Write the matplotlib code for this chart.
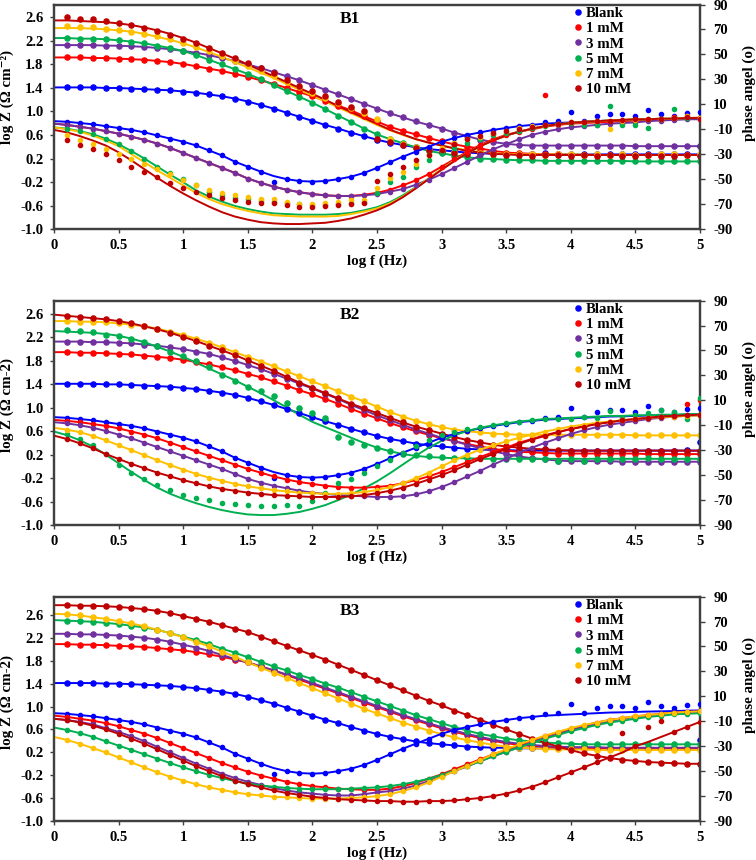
import matplotlib.pyplot as plt
from matplotlib.lines import Line2D

plt.rcParams['font.family'] = ['Liberation Serif', 'DejaVu Serif']
plt.rcParams['font.weight'] = 'bold'
plt.rcParams['axes.unicode_minus'] = False

# frequency grid (log f, Hz)
log_f = [0.0, 0.1, 0.2, 0.3, 0.4, 0.5, 0.6, 0.7, 0.8, 0.9,
         1.0, 1.1, 1.2, 1.3, 1.4, 1.5, 1.6, 1.7, 1.8, 1.9,
         2.0, 2.1, 2.2, 2.3, 2.4, 2.5, 2.6, 2.7, 2.8, 2.9,
         3.0, 3.1, 3.2, 3.3, 3.4, 3.5, 3.6, 3.7, 3.8, 3.9,
         4.0, 4.1, 4.2, 4.3, 4.4, 4.5, 4.6, 4.7, 4.8, 4.9, 5.0]

labels = ['Blank', '1 mM', '3 mM', '5 mM', '7 mM', '10 mM']
colors = ['#0000ff', '#ff0000', '#7030a0', '#00b050', '#ffc000', '#c00000']

x_ticks = [0, 0.5, 1, 1.5, 2, 2.5, 3, 3.5, 4, 4.5, 5]
x_ticklabels = ['0', '0.5', '1', '1.5', '2', '2.5', '3', '3.5', '4', '4.5', '5']
z_ticks = [-1.0, -0.6, -0.2, 0.2, 0.6, 1.0, 1.4, 1.8, 2.2, 2.6]
ph_ticks = [-90, -70, -50, -30, -10, 10, 30, 50, 70, 90]

# ---- blank (same in every panel) ----
blank_z = [1.41, 1.41, 1.41, 1.41, 1.40, 1.40, 1.39, 1.38, 1.37, 1.36,
           1.34, 1.32, 1.29, 1.26, 1.22, 1.17, 1.11, 1.05, 0.98, 0.91,
           0.84, 0.77, 0.71, 0.64, 0.58, 0.52, 0.47, 0.43, 0.39, 0.36,
           0.34, 0.32, 0.30, 0.29, 0.28, 0.28, 0.27, 0.27, 0.27, 0.27,
           0.27, 0.27, 0.27, 0.27, 0.27, 0.27, 0.27, 0.27, 0.27, 0.27, 0.27]
blank_z_pts = [1.41, 1.41, 1.41, 1.41, 1.40, 1.40, 1.39, 1.38, 1.37, 1.36,
               1.34, 1.32, 1.29, 1.26, 1.22, 1.17, 1.11, 1.05, 0.98, 0.91,
               0.84, 0.77, 0.71, 0.64, 0.58, 0.52, 0.47, 0.43, 0.39, 0.36,
               0.34, 0.32, 0.30, 0.29, 0.28, 0.28, 0.27, 0.27, 0.29, 0.27,
               0.27, 0.27, 0.27, 0.27, 0.27, 0.27, 0.27, 0.27, 0.27, 0.28, 0.42]
blank_ph = [-3.5, -4, -5, -6, -7.5, -9, -10.5, -12.5, -15, -17.5,
            -20, -23, -27, -31, -36, -40, -44, -47.5, -50, -51.5,
            -52, -51.5, -50, -48, -45, -41, -36.5, -32, -28, -24,
            -20, -17, -14.5, -12.5, -10.5, -9, -7.5, -6.5, -5.5, -5,
            -4.5, -4, -3.5, -3, -2.8, -2.5, -2.2, -2, -1.8, -1.5, -1.3]
blank_ph_pts = [-3.5, -4, -5, -6, -7.5, -9, -10.5, -12.5, -15, -17.5,
                -20, -23, -27, -31, -36, -40, -44, -52.5, -50, -51.5,
                -52, -51.5, -50, -48, -45, -41, -36.5, -32, -28, -24,
                -20, -17, -14.5, -12.5, -10.5, -9, -7.5, -6.5, -4.5, -3.5,
                4, -3, 1, 2.5, 2.5, 0.5, 5.5, 2.5, 1, 3, 4]

# ---- B1 ----
b1_z_1mM = [1.92, 1.92, 1.92, 1.91, 1.91, 1.90, 1.89, 1.88, 1.86, 1.84,
            1.81, 1.77, 1.73, 1.69, 1.64, 1.59, 1.53, 1.47, 1.40, 1.33,
            1.26, 1.18, 1.10, 1.02, 0.92, 0.83, 0.74, 0.67, 0.61, 0.55,
            0.49, 0.44, 0.40, 0.37, 0.33, 0.30, 0.29, 0.28, 0.27, 0.27,
            0.26, 0.26, 0.26, 0.26, 0.26, 0.26, 0.26, 0.26, 0.26, 0.26, 0.26]
b1_z_3mM = [2.13, 2.13, 2.13, 2.13, 2.12, 2.12, 2.11, 2.10, 2.08, 2.06,
            2.03, 2.00, 1.96, 1.91, 1.86, 1.80, 1.74, 1.67, 1.60, 1.53,
            1.45, 1.37, 1.29, 1.21, 1.13, 1.05, 0.97, 0.90, 0.83, 0.77,
            0.71, 0.64, 0.58, 0.52, 0.48, 0.45, 0.43, 0.42, 0.42, 0.42,
            0.42, 0.42, 0.42, 0.42, 0.42, 0.41, 0.41, 0.41, 0.41, 0.41, 0.41]
b1_z_5mM = [2.25, 2.25, 2.24, 2.24, 2.23, 2.21, 2.19, 2.16, 2.12, 2.08,
            2.03, 1.96, 1.88, 1.80, 1.72, 1.64, 1.55, 1.45, 1.35, 1.25,
            1.15, 1.04, 0.93, 0.82, 0.71, 0.61, 0.53, 0.46, 0.39, 0.33,
            0.29, 0.25, 0.22, 0.20, 0.19, 0.18, 0.17, 0.17, 0.16, 0.16,
            0.16, 0.16, 0.16, 0.16, 0.16, 0.15, 0.15, 0.15, 0.15, 0.15, 0.15]
b1_z_7mM = [2.42, 2.42, 2.42, 2.41, 2.40, 2.38, 2.36, 2.32, 2.27, 2.22,
            2.16, 2.09, 2.01, 1.93, 1.84, 1.75, 1.66, 1.57, 1.47, 1.37,
            1.27, 1.17, 1.07, 0.97, 0.87, 0.77, 0.68, 0.60, 0.53, 0.47,
            0.42, 0.38, 0.34, 0.31, 0.29, 0.28, 0.27, 0.27, 0.27, 0.27,
            0.27, 0.27, 0.26, 0.26, 0.26, 0.26, 0.26, 0.26, 0.26, 0.26, 0.26]
b1_z_7mM_pts = [2.43, 2.45, 2.44, 2.43, 2.41, 2.39, 2.36, 2.32, 2.28, 2.23,
                2.17, 2.10, 2.03, 1.95, 1.86, 1.78, 1.69, 1.61, 1.50, 1.41,
                1.32, 1.23, 1.14, 1.06, 0.97, 0.87, 0.53, 0.45, 0.40, 0.36,
                0.33, 0.31, 0.30, 0.29, 0.28, 0.28, 0.27, 0.27, 0.26, 0.27,
                0.28, 0.26, 0.27, 0.26, 0.27, 0.26, 0.26, 0.27, 0.27, 0.26, 0.27]
b1_z_10mM = [2.55, 2.55, 2.54, 2.53, 2.52, 2.50, 2.47, 2.43, 2.38, 2.32,
             2.25, 2.17, 2.08, 1.99, 1.90, 1.80, 1.70, 1.60, 1.50, 1.40,
             1.30, 1.20, 1.09, 0.99, 0.89, 0.79, 0.69, 0.61, 0.53, 0.47,
             0.42, 0.37, 0.33, 0.30, 0.28, 0.27, 0.26, 0.26, 0.26, 0.26,
             0.26, 0.26, 0.26, 0.26, 0.26, 0.26, 0.26, 0.26, 0.26, 0.26, 0.26]
b1_z_10mM_pts = [2.55, 2.60, 2.58, 2.57, 2.54, 2.50, 2.47, 2.42, 2.37, 2.31,
                 2.24, 2.16, 2.08, 2.00, 1.91, 1.83, 1.74, 1.66, 1.53, 1.44,
                 1.35, 1.26, 1.17, 1.08, 1.00, 0.53, 0.48, 0.43, 0.38, 0.34,
                 0.31, 0.29, 0.28, 0.27, 0.27, 0.26, 0.26, 0.25, 0.26, 0.26,
                 0.25, 0.26, 0.25, 0.26, 0.25, 0.25, 0.26, 0.25, 0.25, 0.26, 0.25]

b1_ph_1mM = [-5.5, -6.5, -8, -9.5, -11.5, -13.5, -16, -18.5, -21.5, -25,
             -29, -33, -37, -41, -45, -49.5, -53, -56, -58.5, -60.5,
             -62, -63, -63.5, -63.5, -62.5, -61, -58.5, -55, -51, -46,
             -40, -34, -28, -22.5, -18, -14.5, -12, -10, -8, -6.5,
             -5.5, -5, -4.5, -4, -3.5, -3, -2.5, -2, -1.5, -1, -0.7]
b1_ph_1mM_pts = [-5.5, -6.5, -8, -9.5, -11.5, -13.5, -16, -18.5, -21.5, -25,
                 -29, -33, -37, -41, -45, -49.5, -53, -56, -58.5, -60.5,
                 -62, -63, -63.5, -63.5, -62.5, -61, -58.5, -55, -51, -46,
                 -40, -34, -28, -22.5, -18, -14.5, -12, -10, 17.5, -6.5,
                 -5.5, -5, -4.5, -4, -3.5, -3, -2.5, -2, -0.5, 0.5, -0.7]
b1_ph_3mM = [-5.5, -6.5, -8, -9.5, -11.5, -13.5, -16, -18.5, -21.5, -25,
             -29, -33, -37, -41, -45, -49.5, -53, -56, -58.5, -60.5,
             -62, -63, -63.5, -63.5, -63, -62, -60, -58, -54.5, -50.5,
             -46, -41, -36, -31, -26, -22, -18, -14.5, -12, -10,
             -8.5, -7.5, -6.5, -5.5, -5, -4.5, -3.5, -3, -2.5, -2, -2]
b1_ph_5mM = [-8.5, -9.5, -11.5, -14, -17.5, -22, -27.5, -33.5, -40, -46.5,
             -52.5, -59, -64, -68, -71.5, -74, -76, -77.5, -78, -78.5,
             -78.5, -78.5, -78, -77, -75, -72.5, -68.5, -63, -56.5, -49.5,
             -42, -35, -29, -23.5, -19, -15, -12, -9.5, -7.5, -6,
             -5, -4, -3.5, -3, -2.5, -2, -2, -1.5, -1.5, -1, -1]
b1_ph_5mM_pts = [-8.5, -9.5, -11.5, -14, -17.5, -22, -27.5, -33.5, -40, -45,
                 -49.5, -55, -60, -63, -65, -66, -67.5, -68, -69.5, -70,
                 -71, -70.5, -70, -69, -68.5, -61, -52.5, -48.5, -40, -35,
                 -29, -25, -21, -18, -15, -13, -11, -9, -7, -6,
                 -5, -6.5, -6.5, 8.5, -6.5, -6.5, -9, -1.5, 6, -1, -1]
b1_ph_7mM = [-8.5, -10, -12, -15, -19, -23.5, -30, -36.5, -43, -49,
             -55, -61, -66, -70, -73, -75.5, -77.5, -79, -79.5, -80,
             -80, -80, -79.5, -78, -76, -73.5, -69.5, -64, -57, -49.5,
             -42, -35, -29, -23.5, -19, -15, -12, -9.5, -7.5, -6,
             -5, -4, -3.5, -3, -2.5, -2, -2, -1.5, -1.5, -1, -1]
b1_ph_7mM_pts = [-8.5, -15, -18.5, -22, -26, -30, -34, -38, -42, -46,
                 -50.5, -55, -58.5, -61.5, -62.5, -64, -66, -66, -68, -70,
                 -70, -69, -68, -67, -66.5, -57, -49, -44.5, -38, -31,
                 -25, -21, -18, -16, -13, -11, -9, -7.5, -6.5, -5.5,
                 -4.5, -4, -3, -10, -3.5, -2.5, -2, -1.5, -1, 0.5, -1]
b1_ph_10mM = [-10.5, -12.5, -15.5, -19, -23, -28.5, -35, -42, -49, -55.5,
              -61.5, -67, -72, -76.5, -80, -82.5, -84.5, -85.5, -86, -86,
              -85.5, -85, -83.5, -81.5, -78.5, -75, -70.5, -64.5, -57.5, -50,
              -42.5, -35.5, -29, -23.5, -19, -15, -12, -9.5, -7.5, -6,
              -5, -4, -3.5, -3, -2.5, -2, -2, -1.5, -1.5, -1, -1]
b1_ph_10mM_pts = [-10.5, -18.5, -22.5, -26, -30, -35, -40, -44.5, -48.5, -53,
                  -57, -60, -62.5, -65, -66.5, -68, -69, -69.5, -71, -72,
                  -72, -71.5, -71, -70, -69.5, -51.5, -45.5, -40.5, -35, -31,
                  -27, -22, -18, -15.5, -13, -11, -9.5, -8, -6.5, -5.5,
                  -4.5, -4, -3.5, -3, -2.5, -2, -2, -1.5, -1, 0, -1.5]

# ---- B2 ----
b2_z_1mM = [1.95, 1.95, 1.94, 1.94, 1.93, 1.92, 1.91, 1.89, 1.87, 1.85,
            1.82, 1.78, 1.74, 1.69, 1.64, 1.58, 1.52, 1.45, 1.38, 1.30,
            1.23, 1.15, 1.07, 0.98, 0.90, 0.82, 0.74, 0.67, 0.60, 0.54,
            0.48, 0.43, 0.38, 0.34, 0.30, 0.27, 0.25, 0.24, 0.23, 0.22,
            0.22, 0.22, 0.22, 0.22, 0.22, 0.22, 0.21, 0.21, 0.21, 0.21, 0.21]
b2_z_3mM = [2.13, 2.13, 2.13, 2.12, 2.12, 2.11, 2.10, 2.08, 2.06, 2.03,
            2.00, 1.96, 1.92, 1.86, 1.80, 1.73, 1.66, 1.58, 1.50, 1.41,
            1.33, 1.24, 1.15, 1.05, 0.96, 0.87, 0.79, 0.71, 0.63, 0.56,
            0.49, 0.43, 0.37, 0.31, 0.26, 0.21, 0.17, 0.14, 0.12, 0.10,
            0.09, 0.09, 0.09, 0.09, 0.08, 0.08, 0.08, 0.08, 0.08, 0.08, 0.08]
b2_z_5mM = [2.31, 2.30, 2.29, 2.28, 2.26, 2.23, 2.18, 2.12, 2.04, 1.96,
            1.87, 1.77, 1.67, 1.57, 1.47, 1.36, 1.25, 1.13, 1.01, 0.88,
            0.76, 0.67, 0.58, 0.49, 0.40, 0.32, 0.26, 0.21, 0.18, 0.16,
            0.15, 0.14, 0.14, 0.13, 0.13, 0.13, 0.13, 0.13, 0.13, 0.13,
            0.13, 0.13, 0.13, 0.13, 0.13, 0.13, 0.13, 0.13, 0.13, 0.13, 0.13]
b2_z_5mM_pts = [2.31, 2.33, 2.31, 2.29, 2.25, 2.23, 2.18, 2.12, 2.05, 1.96,
                1.89, 1.80, 1.70, 1.56, 1.46, 1.36, 1.28, 1.20, 1.08, 0.99,
                0.92, 0.82, 0.51, 0.42, 0.36, 0.32, 0.27, 0.22, 0.19, 0.17,
                0.16, 0.15, 0.14, 0.14, 0.13, 0.13, 0.12, 0.13, 0.12, 0.10,
                0.13, 0.09, 0.12, 0.13, 0.12, 0.13, 0.14, 0.13, 0.12, 0.13, 0.12]
b2_z_7mM = [2.48, 2.48, 2.47, 2.47, 2.46, 2.44, 2.42, 2.39, 2.35, 2.30,
            2.24, 2.18, 2.11, 2.03, 1.95, 1.87, 1.79, 1.71, 1.62, 1.54,
            1.45, 1.37, 1.28, 1.19, 1.11, 1.02, 0.93, 0.85, 0.78, 0.72,
            0.67, 0.63, 0.60, 0.58, 0.56, 0.55, 0.54, 0.54, 0.54, 0.54,
            0.54, 0.54, 0.54, 0.54, 0.54, 0.53, 0.53, 0.53, 0.53, 0.53, 0.53]
b2_z_10mM = [2.59, 2.57, 2.55, 2.53, 2.51, 2.48, 2.44, 2.39, 2.34, 2.28,
             2.21, 2.14, 2.06, 1.98, 1.90, 1.81, 1.72, 1.63, 1.53, 1.43,
             1.34, 1.25, 1.16, 1.07, 0.99, 0.91, 0.83, 0.75, 0.68, 0.62,
             0.56, 0.50, 0.45, 0.41, 0.37, 0.34, 0.32, 0.30, 0.29, 0.28,
             0.27, 0.27, 0.27, 0.27, 0.27, 0.27, 0.27, 0.27, 0.27, 0.27, 0.27]

b2_ph_1mM = [-5.7, -6.5, -7.5, -9, -10.5, -12.5, -15, -17.5, -20.5, -24,
             -27.5, -31, -34.5, -38, -41.5, -45, -48, -51, -53.5, -55.5,
             -57, -58.5, -59.5, -60, -60, -59.5, -58.5, -56.5, -54, -51,
             -47.5, -43.5, -39.5, -35.5, -31.5, -28, -24, -21, -18, -15.5,
             -13, -11, -9, -7.5, -6, -5, -4, -3, -2.5, -2, -1.5]
b2_ph_1mM_pts = [-5.7, -6.5, -7.5, -9, -10.5, -12.5, -15, -17.5, -20.5, -24,
                 -27.5, -31, -34.5, -38, -41.5, -45, -48, -51, -53.5, -55.5,
                 -57, -58.5, -59.5, -60, -60, -59.5, -58.5, -56.5, -54, -51,
                 -47.5, -43.5, -39.5, -35.5, -31.5, -28, -24, -21, -18, -15.5,
                 -13, -11, -9, -7.5, -6, -5, -4, -3, -2.5, 7, 10]
b2_ph_3mM = [-7.5, -8.5, -10, -12, -14.5, -17.5, -20.5, -24, -27.5, -31,
             -34.5, -38, -41.5, -45, -49, -53, -56, -58.5, -60.5, -62.5,
             -64, -65, -66, -66.5, -67, -67.5, -67.5, -67, -65.5, -63,
             -59.5, -55.5, -51, -46.5, -41.5, -37, -32, -28, -24, -20.5,
             -17, -14, -11.5, -9.5, -8, -6.5, -5, -4, -3, -2.5, -2]
b2_ph_5mM = [-15, -18, -22, -27, -33.5, -40.5, -47.5, -54, -60, -65,
             -69, -72.5, -75.5, -78, -80, -81.5, -82, -82, -81, -79.5,
             -77, -74, -70, -65.5, -60.5, -55, -48.5, -41.5, -34.5, -28,
             -22.5, -18, -14.5, -12, -10, -8.5, -7, -6, -5, -4.5,
             -4, -3.5, -3, -2.5, -2.5, -2, -2, -1.5, -1.5, -1, -1]
b2_ph_5mM_pts = [-15, -17, -21, -26, -33, -42, -48, -53, -58, -62,
                 -66, -68, -70, -72, -73, -74, -74.5, -74.5, -74, -74.5,
                 -71, -64, -56, -53, -48, -43, -38, -32, -27, -22,
                 -18, -15, -13, -11, -9.5, -8, -7, -6, -5, -5,
                 -5, -3, -4, 1.5, -4, -2, 0, 2, 1, -5, 12]
b2_ph_7mM = [-12, -13.5, -15.5, -18.5, -22, -26, -30, -34, -38, -42,
             -45.5, -49, -52, -54.5, -57, -59, -60.5, -62, -63, -64,
             -64.5, -65, -65, -64.5, -63.5, -62, -59.5, -56.5, -52.5, -48,
             -43, -38, -33.5, -29.5, -26, -23, -20, -17.5, -15, -13,
             -11, -9.5, -8, -7, -6, -5, -4, -3.5, -3, -2.5, -2]
b2_ph_10mM = [-18.3, -21, -24.5, -28.5, -33, -37, -41, -44.5, -48, -51,
              -54, -56.5, -59, -61, -62.5, -64, -65, -66, -66.5, -67,
              -67.5, -67.5, -67.5, -67, -66, -64.5, -62.5, -60, -57, -53.5,
              -50, -46, -41.5, -37, -33, -29, -25, -21.5, -18.5, -15.5,
              -13, -11, -9, -7.5, -6, -5, -4, -3, -2.5, -2, -1.5]

# ---- B3 ----
b3_z_1mM = [2.09, 2.09, 2.08, 2.08, 2.07, 2.06, 2.05, 2.04, 2.02, 2.00,
            1.98, 1.95, 1.91, 1.87, 1.82, 1.77, 1.70, 1.63, 1.55, 1.47,
            1.39, 1.31, 1.23, 1.15, 1.07, 0.99, 0.91, 0.83, 0.76, 0.69,
            0.62, 0.56, 0.50, 0.45, 0.40, 0.36, 0.33, 0.31, 0.30, 0.29,
            0.28, 0.28, 0.27, 0.27, 0.27, 0.27, 0.27, 0.27, 0.27, 0.27, 0.27]
b3_z_3mM = [2.27, 2.27, 2.26, 2.26, 2.25, 2.24, 2.22, 2.20, 2.17, 2.13,
            2.08, 2.03, 1.97, 1.90, 1.83, 1.77, 1.70, 1.63, 1.56, 1.49,
            1.41, 1.33, 1.25, 1.17, 1.09, 1.01, 0.93, 0.85, 0.78, 0.71,
            0.64, 0.58, 0.52, 0.47, 0.42, 0.38, 0.35, 0.33, 0.31, 0.30,
            0.29, 0.29, 0.29, 0.28, 0.28, 0.28, 0.28, 0.28, 0.28, 0.28, 0.28]
b3_z_5mM = [2.51, 2.50, 2.49, 2.48, 2.46, 2.44, 2.41, 2.38, 2.34, 2.28,
            2.22, 2.16, 2.09, 2.01, 1.94, 1.86, 1.78, 1.70, 1.63, 1.55,
            1.48, 1.40, 1.33, 1.25, 1.17, 1.09, 1.01, 0.93, 0.85, 0.78,
            0.71, 0.64, 0.58, 0.52, 0.48, 0.44, 0.41, 0.39, 0.37, 0.36,
            0.35, 0.34, 0.34, 0.34, 0.34, 0.34, 0.34, 0.34, 0.34, 0.34, 0.34]
b3_z_7mM = [2.62, 2.61, 2.59, 2.56, 2.53, 2.49, 2.45, 2.40, 2.34, 2.28,
            2.21, 2.13, 2.05, 1.96, 1.87, 1.77, 1.68, 1.59, 1.50, 1.41,
            1.32, 1.23, 1.14, 1.05, 0.96, 0.88, 0.80, 0.72, 0.65, 0.58,
            0.52, 0.46, 0.41, 0.37, 0.33, 0.30, 0.28, 0.27, 0.26, 0.25,
            0.25, 0.25, 0.24, 0.24, 0.24, 0.24, 0.24, 0.24, 0.24, 0.24, 0.24]
b3_z_10mM = [2.77, 2.77, 2.76, 2.76, 2.75, 2.74, 2.72, 2.70, 2.67, 2.63,
             2.58, 2.53, 2.48, 2.42, 2.36, 2.30, 2.22, 2.14, 2.06, 1.98,
             1.90, 1.82, 1.73, 1.64, 1.55, 1.46, 1.37, 1.28, 1.19, 1.10,
             1.02, 0.93, 0.85, 0.77, 0.68, 0.60, 0.52, 0.44, 0.37, 0.30,
             0.24, 0.18, 0.14, 0.10, 0.07, 0.05, 0.03, 0.02, 0.01, 0.00, 0.00]

b3_ph_1mM = [-5.5, -6.5, -8, -9.5, -11.5, -14, -17, -20, -23.5, -27.5,
             -31.5, -35.5, -39.5, -43.5, -47, -50.5, -53.5, -56, -58.5, -60.5,
             -62, -63, -64, -64.5, -65, -65, -64, -62, -59.5, -56,
             -52.5, -48.5, -44.5, -40.5, -36.5, -33, -29, -25.5, -22, -19,
             -16, -13.5, -11, -9, -7.5, -6, -5, -4, -3, -2.5, -2]
b3_ph_3mM = [-8, -9, -10.5, -12.5, -15.5, -18.5, -22, -26, -30.5, -35,
             -39.5, -44, -48, -52, -55.5, -58.5, -61, -63.5, -65.5, -67,
             -68, -69, -69.5, -69.5, -68.5, -67, -66, -64, -61.5, -58,
             -54, -50, -46, -42, -38, -34.5, -30.5, -27, -23.5, -20.5,
             -17, -14.5, -12, -10, -8, -6.5, -5.5, -4.5, -3.5, -3, -2.5]
b3_ph_5mM = [-15, -17, -19.5, -22.5, -26, -29.5, -33, -36.5, -40, -43.5,
             -47, -50, -53, -55.5, -58, -60, -61.5, -62.5, -63.5, -64,
             -64.5, -64.5, -64.5, -64, -63.5, -63, -62, -60.5, -58.5, -56,
             -53, -49.5, -46, -42, -38, -34.5, -31, -27.5, -24, -21,
             -18, -15.5, -13, -11, -9.5, -8, -6.5, -5.5, -4.5, -4, -3.5]
b3_ph_7mM = [-22.5, -25, -28, -31.5, -35, -39, -43, -47, -51, -54.5,
             -57.5, -60.5, -63, -65, -67, -68.5, -69.5, -70.5, -71, -71.5,
             -72, -72, -72, -71.5, -71, -70, -68.5, -66, -63, -59,
             -54.5, -50, -45.5, -41, -36.5, -32.5, -28.5, -25, -21.5, -18.5,
             -15.5, -13, -11, -9, -7.5, -6, -5, -4, -3, -2.5, -2]
b3_ph_10mM = [-8, -9, -11, -13.5, -16.5, -20, -24, -28, -32.5, -37,
              -41.5, -46, -50, -54, -57.5, -60.5, -63, -65.5, -67.5, -69,
              -70.5, -71.5, -72.5, -73, -73.5, -74, -74, -74.5, -74.5, -74,
              -74, -73.5, -72.5, -71.5, -70, -68, -65.5, -62.5, -59, -55,
              -51, -47, -43, -39, -35, -30, -26.5, -22.5, -18.5, -14.5, -10.5]
b3_ph_10mM_pts = [-8, -9, -11, -13.5, -16.5, -20, -24, -28, -32.5, -37,
                  -41.5, -46, -50, -54, -57.5, -60.5, -63, -65.5, -67.5, -69,
                  -70.5, -71.5, -72.5, -73, -73.5, -74, -74, -74.5, -74.5, -74,
                  -74, -73.5, -72.5, -71.5, -70, -68, -65.5, -62.5, -59, -55,
                  -51, -47, -43, -39, -19.5, -30, -14.5, -9.5, -18.5, -14.5, -10.5]

panels = [
    dict(name='B1', bottom=0.7337, ztop=2.82,
         ylabel='log Z (\u03a9 cm\u207b\u00b2)', zlab_y=0.588,
         z=[blank_z, b1_z_1mM, b1_z_3mM, b1_z_5mM, b1_z_7mM, b1_z_10mM],
         z_pts=[blank_z_pts, b1_z_1mM, b1_z_3mM, b1_z_5mM, b1_z_7mM_pts, b1_z_10mM_pts],
         ph=[blank_ph, b1_ph_1mM, b1_ph_3mM, b1_ph_5mM, b1_ph_7mM, b1_ph_10mM],
         ph_pts=[blank_ph_pts, b1_ph_1mM_pts, b1_ph_3mM, b1_ph_5mM_pts,
                 b1_ph_7mM_pts, b1_ph_10mM_pts]),
    dict(name='B2', bottom=0.3895, ztop=2.83,
         ylabel='log Z (\u03a9 cm-2)', zlab_y=0.536,
         z=[blank_z, b2_z_1mM, b2_z_3mM, b2_z_5mM, b2_z_7mM, b2_z_10mM],
         z_pts=[blank_z_pts, b2_z_1mM, b2_z_3mM, b2_z_5mM_pts, b2_z_7mM, b2_z_10mM],
         ph=[blank_ph, b2_ph_1mM, b2_ph_3mM, b2_ph_5mM, b2_ph_7mM, b2_ph_10mM],
         ph_pts=[blank_ph_pts, b2_ph_1mM_pts, b2_ph_3mM, b2_ph_5mM_pts,
                 b2_ph_7mM, b2_ph_10mM]),
    dict(name='B3', bottom=0.0453, ztop=2.92,
         ylabel='log Z (\u03a9 cm-2)', zlab_y=0.531,
         z=[blank_z, b3_z_1mM, b3_z_3mM, b3_z_5mM, b3_z_7mM, b3_z_10mM],
         z_pts=[blank_z_pts, b3_z_1mM, b3_z_3mM, b3_z_5mM, b3_z_7mM, b3_z_10mM],
         ph=[blank_ph, b3_ph_1mM, b3_ph_3mM, b3_ph_5mM, b3_ph_7mM, b3_ph_10mM],
         ph_pts=[blank_ph_pts, b3_ph_1mM, b3_ph_3mM, b3_ph_5mM,
                 b3_ph_7mM, b3_ph_10mM_pts]),
]

fig = plt.figure(figsize=(7.56, 8.6), dpi=100)
frame = '#404040'

for p in panels:
    ax = fig.add_axes([0.0714, p['bottom'], 0.8545, 0.261])
    ax2 = ax.twinx()

    for i in range(6):
        c = colors[i]
        ax.plot(log_f, p['z'][i], color=c, lw=1.4, zorder=2)
        ax.plot(log_f[1:], p['z_pts'][i][1:], 'o', ms=3.7, color=c, mec=c, zorder=3)
        ax2.plot(log_f, p['ph'][i], color=c, lw=1.4, zorder=2)
        ax2.plot(log_f[1:], p['ph_pts'][i][1:], 'o', ms=3.0, color=c, mec=c, zorder=3)

    ax.set_xlim(0, 5)
    ax.set_ylim(-1.0, p['ztop'])
    ax2.set_ylim(-90, 90)
    ax.set_xticks(x_ticks)
    ax.set_xticklabels(x_ticklabels)
    ax.set_yticks(z_ticks)
    ax.set_yticklabels(['%.1f' % v for v in z_ticks])
    ax2.set_yticks(ph_ticks)
    ax.tick_params(axis='x', direction='out', length=3, width=1, pad=4.5,
                   labelsize=10.5, color=frame)
    ax.tick_params(axis='y', direction='out', length=3, width=1, pad=4.5,
                   labelsize=10.5, color=frame)
    ax2.tick_params(axis='y', direction='out', length=3.5, width=1, pad=6,
                    labelsize=10.5, color=frame)

    for a in (ax, ax2):
        for s in a.spines.values():
            s.set_color(frame)
            s.set_linewidth(1.6)

    ax.set_xlabel('log f (Hz)', fontsize=10.8, fontweight='bold')
    ax.xaxis.set_label_coords(0.5, -0.112)
    ax.set_ylabel(p['ylabel'], fontsize=10.8, fontweight='bold')
    ax.yaxis.set_label_coords(-0.062, p['zlab_y'])
    ax2.set_ylabel('phase angel (o)', fontsize=10.8, fontweight='bold')
    ax2.yaxis.set_label_coords(1.066, 0.606)

    ax.text(0.458, 0.935, p['name'], transform=ax.transAxes, ha='center',
            va='center', fontsize=12.5, fontweight='bold')

    handles = [Line2D([], [], ls='none', marker='o', ms=3.7, color=c) for c in colors]
    ax2.legend(handles, labels, loc='upper left', bbox_to_anchor=(0.8015, 1.0),
               frameon=False, prop={'weight': 'bold', 'size': 10.7},
               handlelength=0.5, handletextpad=0.3, labelspacing=0.12,
               borderaxespad=0, borderpad=0.15)

fig.savefig('out.png', dpi=100)
